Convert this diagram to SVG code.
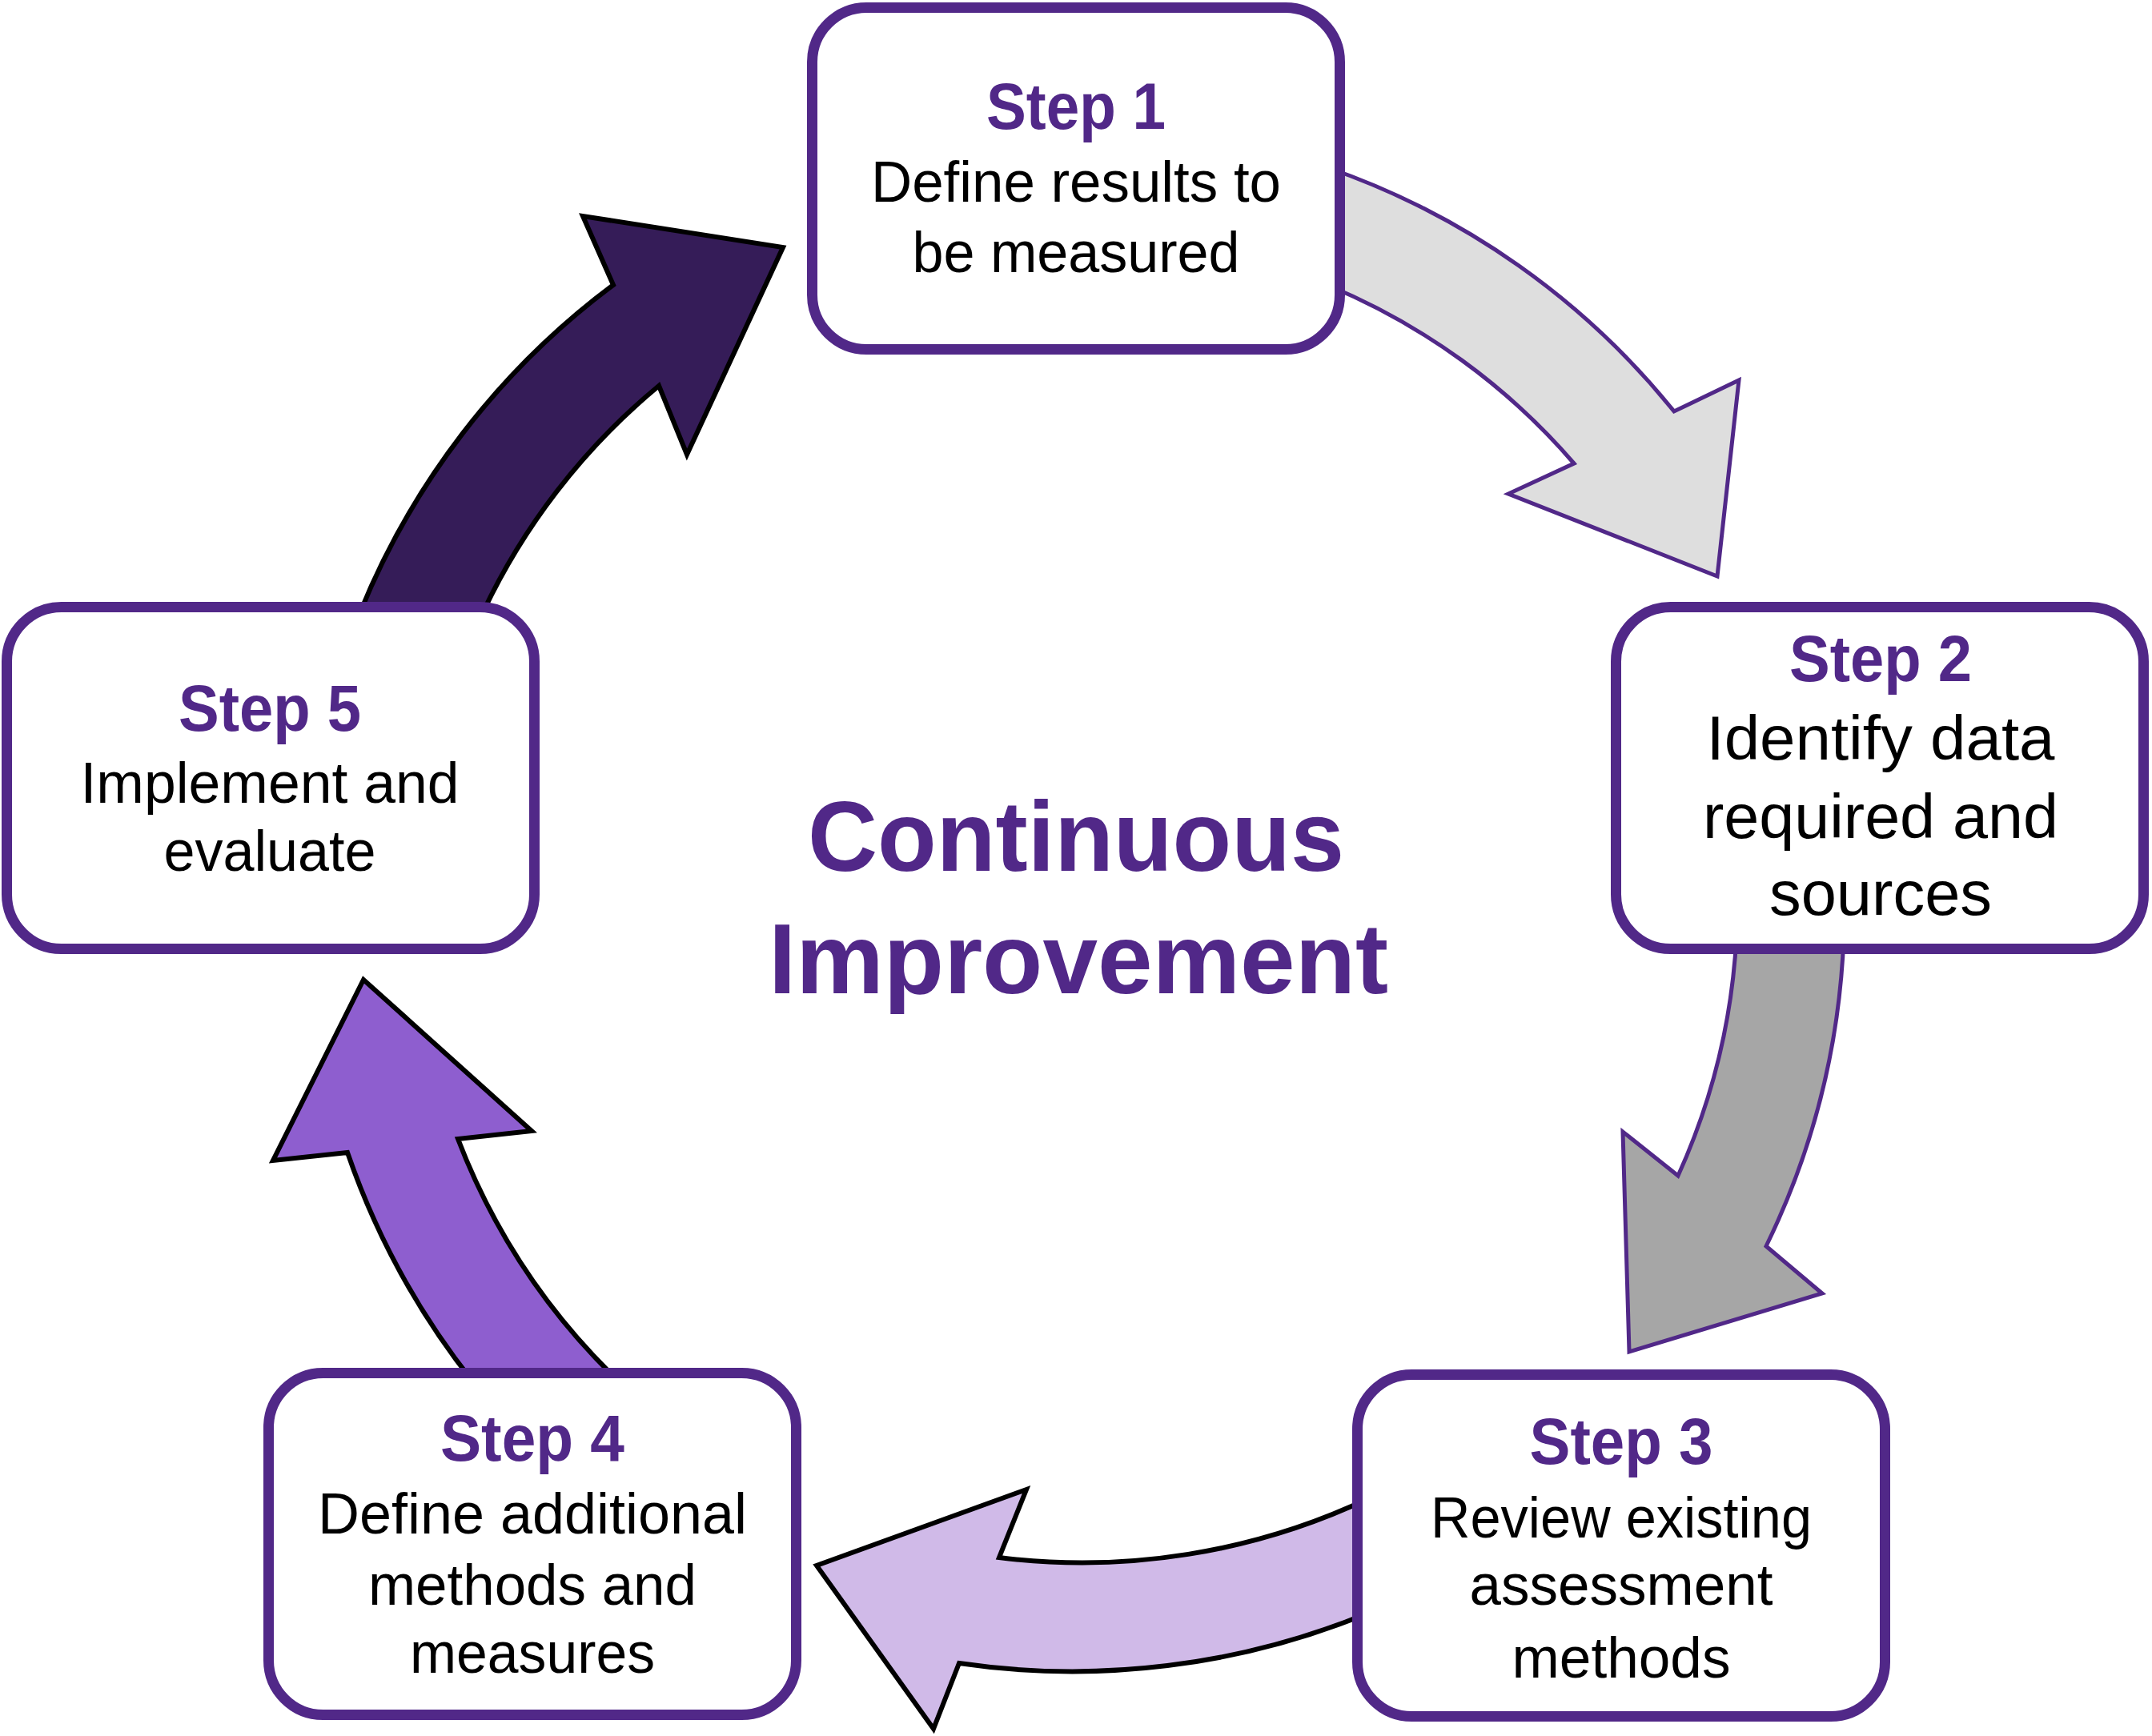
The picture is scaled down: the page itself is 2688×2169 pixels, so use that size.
<svg xmlns="http://www.w3.org/2000/svg" width="2688" height="2169" viewBox="0 0 2688 2169">
<style>
.box{fill:#fff;stroke:#512888;stroke-width:13}
.title{font-family:"Liberation Sans",Arial,sans-serif;font-weight:bold;font-size:82px;fill:#512888;text-anchor:middle}
.body{font-family:"Liberation Sans",Arial,sans-serif;font-size:72px;fill:#000;text-anchor:middle}
.big{font-size:78px}
.center{font-family:"Liberation Sans",Arial,sans-serif;font-weight:bold;font-size:124px;fill:#512888;text-anchor:middle}
.ap{stroke:#512888;stroke-width:5;stroke-linejoin:miter}
.ak{stroke:#000;stroke-width:6;stroke-linejoin:miter}
</style>
<rect width="2688" height="2169" fill="#fff"/>
<g id="connectors">
<path id="arrow-1-2" class="ap" fill="#DEDEDE" d="M1660,210 A958,958 0 0 1 2091,514 L2172,475 L2145,720 L1884,617 L1966,579 A821,821 0 0 0 1660,357 Z"/>
<path id="arrow-2-3" class="ap" fill="#A6A6A6" d="M2303,1170 A964,964 0 0 1 2206,1557 L2276,1616 L2035,1689 L2027,1414 L2096,1469 A828,828 0 0 0 2169,1170 Z"/>
<path id="arrow-3-4" class="ak" fill="#D0BAE8" d="M1710,2015 A972,972 0 0 1 1198,2078 L1166,2160 L1020,1956 L1282,1861 L1248,1946 A838,838 0 0 0 1710,1872 Z"/>
<path id="arrow-4-5" class="ak" fill="#8E5ECF" d="M592,1728 A970,970 0 0 1 434,1440 L341,1450 L454,1224 L664,1413 L572,1423 A834,834 0 0 0 772,1725 Z"/>
<path id="arrow-5-1" class="ak" fill="#351C58" d="M447,772 A961,961 0 0 1 766,356 L728,270 L978,309 L858,568 L823,482 A821,821 0 0 0 600,772 Z"/>
</g>
<g id="step1">
<rect class="box" x="1014.5" y="9.5" width="659" height="427" rx="68"/>
<text class="title" x="1344" y="161" textLength="224" lengthAdjust="spacingAndGlyphs">Step 1</text>
<text class="body" x="1344" y="252" textLength="512" lengthAdjust="spacingAndGlyphs">Define results to</text>
<text class="body" x="1344" y="340" textLength="409" lengthAdjust="spacingAndGlyphs">be measured</text>
</g>
<g id="step2">
<rect class="box" x="2018.5" y="758.5" width="659" height="427" rx="68"/>
<text class="title" x="2349" y="851" textLength="228" lengthAdjust="spacingAndGlyphs">Step 2</text>
<text class="body big" x="2349" y="949" textLength="435" lengthAdjust="spacingAndGlyphs">Identify data</text>
<text class="body big" x="2349" y="1047" textLength="444" lengthAdjust="spacingAndGlyphs">required and</text>
<text class="body big" x="2349" y="1143" textLength="278" lengthAdjust="spacingAndGlyphs">sources</text>
</g>
<g id="step3">
<rect class="box" x="1695.5" y="1717.5" width="659" height="427" rx="68"/>
<text class="title" x="2025" y="1829" textLength="229" lengthAdjust="spacingAndGlyphs">Step 3</text>
<text class="body" x="2025" y="1921" textLength="476" lengthAdjust="spacingAndGlyphs">Review existing</text>
<text class="body" x="2025" y="2005" textLength="379" lengthAdjust="spacingAndGlyphs">assessment</text>
<text class="body" x="2025" y="2096" textLength="273" lengthAdjust="spacingAndGlyphs">methods</text>
</g>
<g id="step4">
<rect class="box" x="335.5" y="1715.5" width="659" height="427" rx="68"/>
<text class="title" x="665" y="1825" textLength="230" lengthAdjust="spacingAndGlyphs">Step 4</text>
<text class="body" x="665" y="1916" textLength="536" lengthAdjust="spacingAndGlyphs">Define additional</text>
<text class="body" x="665" y="2005" textLength="410" lengthAdjust="spacingAndGlyphs">methods and</text>
<text class="body" x="665" y="2090" textLength="306" lengthAdjust="spacingAndGlyphs">measures</text>
</g>
<g id="step5">
<rect class="box" x="8.5" y="758.5" width="659" height="427" rx="68"/>
<text class="title" x="337" y="913" textLength="228" lengthAdjust="spacingAndGlyphs">Step 5</text>
<text class="body" x="337" y="1003" textLength="473" lengthAdjust="spacingAndGlyphs">Implement and</text>
<text class="body" x="337" y="1088" textLength="265" lengthAdjust="spacingAndGlyphs">evaluate</text>
</g>
<g id="center-label">
<text class="center" x="1344" y="1088" textLength="670" lengthAdjust="spacingAndGlyphs">Continuous</text>
<text class="center" x="1347" y="1241" textLength="774" lengthAdjust="spacingAndGlyphs">Improvement</text>
</g>
</svg>
